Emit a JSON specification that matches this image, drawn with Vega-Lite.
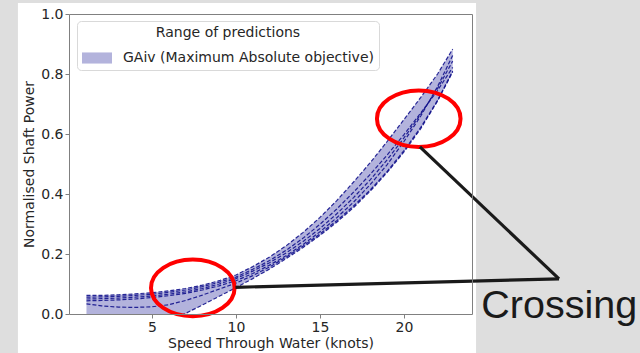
{
  "$schema": "https://vega.github.io/schema/vega-lite/v6.json",
  "width": 403,
  "height": 300,
  "autosize": {"type": "none"},
  "padding": {"left": 69, "top": 14, "right": 168, "bottom": 39},
  "background": "#dedede",
  "config": {
    "view": {"stroke": null},
    "font": "DejaVu Sans",
    "axis": {
      "domainColor": "#808080",
      "tickColor": "#808080",
      "labelColor": "#262626",
      "titleColor": "#262626",
      "labelFont": "DejaVu Sans",
      "titleFont": "DejaVu Sans",
      "labelFontSize": 14,
      "titleFontSize": 14,
      "titleFontWeight": "normal",
      "tickSize": 4,
      "grid": false
    },
    "legend": {
      "labelFont": "DejaVu Sans",
      "titleFont": "DejaVu Sans",
      "labelColor": "#262626",
      "titleColor": "#262626"
    }
  },
  "datasets": {
    "predictions": [
      {"speed": 1.1, "r1": 0.062, "r2": 0.056, "r3": 0.050, "r4": 0.044, "r5": 0.034, "r6": -0.130},
      {"speed": 2, "r1": 0.062, "r2": 0.057, "r3": 0.051, "r4": 0.045, "r5": 0.027, "r6": -0.110},
      {"speed": 3, "r1": 0.064, "r2": 0.059, "r3": 0.053, "r4": 0.047, "r5": 0.023, "r6": -0.090},
      {"speed": 4, "r1": 0.067, "r2": 0.062, "r3": 0.056, "r4": 0.050, "r5": 0.022, "r6": -0.067},
      {"speed": 5, "r1": 0.071, "r2": 0.066, "r3": 0.060, "r4": 0.055, "r5": 0.024, "r6": -0.045},
      {"speed": 6, "r1": 0.077, "r2": 0.072, "r3": 0.066, "r4": 0.061, "r5": 0.031, "r6": -0.022},
      {"speed": 7, "r1": 0.085, "r2": 0.080, "r3": 0.074, "r4": 0.069, "r5": 0.045, "r6": 0.002},
      {"speed": 8, "r1": 0.096, "r2": 0.091, "r3": 0.085, "r4": 0.080, "r5": 0.063, "r6": 0.030},
      {"speed": 9, "r1": 0.111, "r2": 0.106, "r3": 0.100, "r4": 0.094, "r5": 0.083, "r6": 0.059},
      {"speed": 10, "r1": 0.130, "r2": 0.123, "r3": 0.118, "r4": 0.111, "r5": 0.103, "r6": 0.088},
      {"speed": 11, "r1": 0.158, "r2": 0.149, "r3": 0.143, "r4": 0.135, "r5": 0.128, "r6": 0.118},
      {"speed": 12, "r1": 0.190, "r2": 0.178, "r3": 0.171, "r4": 0.163, "r5": 0.157, "r6": 0.150},
      {"speed": 13, "r1": 0.228, "r2": 0.213, "r3": 0.204, "r4": 0.195, "r5": 0.190, "r6": 0.185},
      {"speed": 14, "r1": 0.272, "r2": 0.253, "r3": 0.242, "r4": 0.232, "r5": 0.227, "r6": 0.222},
      {"speed": 15, "r1": 0.322, "r2": 0.299, "r3": 0.285, "r4": 0.274, "r5": 0.267, "r6": 0.262},
      {"speed": 16, "r1": 0.378, "r2": 0.350, "r3": 0.334, "r4": 0.321, "r5": 0.311, "r6": 0.306},
      {"speed": 17, "r1": 0.440, "r2": 0.406, "r3": 0.388, "r4": 0.373, "r5": 0.360, "r6": 0.355},
      {"speed": 18, "r1": 0.505, "r2": 0.466, "r3": 0.448, "r4": 0.432, "r5": 0.414, "r6": 0.410},
      {"speed": 19, "r1": 0.575, "r2": 0.530, "r3": 0.514, "r4": 0.498, "r5": 0.475, "r6": 0.472},
      {"speed": 20, "r1": 0.648, "r2": 0.598, "r3": 0.587, "r4": 0.575, "r5": 0.545, "r6": 0.540},
      {"speed": 21, "r1": 0.722, "r2": 0.670, "r3": 0.666, "r4": 0.660, "r5": 0.622, "r6": 0.618},
      {"speed": 22, "r1": 0.800, "r2": 0.745, "r3": 0.752, "r4": 0.758, "r5": 0.712, "r6": 0.710},
      {"speed": 22.9, "r1": 0.883, "r2": 0.822, "r3": 0.843, "r4": 0.862, "r5": 0.810, "r6": 0.807}
    ]
  },
  "resolve": {"axis": {"x": "independent", "y": "independent"}},
  "layer": [
    {
      "description": "white figure panel behind the axes",
      "data": {"values": [{}]},
      "mark": {"type": "rect", "fill": "#ffffff", "clip": false},
      "encoding": {
        "x": {"datum": -2.98, "type": "quantitative", "scale": {"domain": [0.06, 24.05], "nice": false, "zero": false}, "axis": null},
        "x2": {"datum": 24.29},
        "y": {"datum": -0.2, "type": "quantitative", "scale": {"domain": [0, 1], "nice": false, "zero": false}, "axis": null},
        "y2": {"datum": 1.037}
      }
    },
    {
      "description": "range of predictions: min/max envelope of all runs",
      "data": {"name": "predictions"},
      "transform": [
        {"fold": ["r1", "r2", "r3", "r4", "r5", "r6"], "as": ["run", "power"]},
        {"aggregate": [{"op": "min", "field": "power", "as": "low"}, {"op": "max", "field": "power", "as": "high"}], "groupby": ["speed"]}
      ],
      "mark": {"type": "area", "clip": true},
      "encoding": {
        "x": {
          "field": "speed", "type": "quantitative",
          "scale": {"domain": [0.06, 24.05], "nice": false, "zero": false},
          "axis": {"orient": "bottom", "zindex": 1, "values": [5, 10, 15, 20], "format": "d", "title": "Speed Through Water (knots)", "labelPadding": 2, "titlePadding": 2}
        },
        "y": {
          "field": "low", "type": "quantitative",
          "scale": {"domain": [0, 1], "nice": false, "zero": false},
          "axis": {"orient": "left", "zindex": 1, "values": [0, 0.2, 0.4, 0.6, 0.8, 1], "format": ".1f", "title": "Normalised Shaft Power", "labelPadding": 2, "titlePadding": 4}
        },
        "y2": {"field": "high"},
        "fill": {
          "datum": "GAiv (Maximum Absolute objective)",
          "type": "nominal",
          "scale": {"range": ["#b3b3dc"]},
          "legend": {
            "orient": "none",
            "legendX": 8,
            "legendY": 7,
            "title": "Range of predictions",
            "titleAnchor": "middle",
            "titleFontSize": 14,
            "titleFontWeight": "normal",
            "titlePadding": 3,
            "labelFontSize": 14,
            "labelLimit": 400,
            "labelOffset": 11,
            "symbolType": "M -1 -0.37 L 1 -0.37 L 1 0.37 L -1 0.37 Z",
            "symbolSize": 900,
            "symbolStrokeWidth": 0,
            "fillColor": "#ffffff",
            "strokeColor": "#d9d9d9",
            "cornerRadius": 4,
            "padding": 5
          }
        }
      }
    },
    {
      "description": "individual prediction runs",
      "data": {"name": "predictions"},
      "transform": [{"fold": ["r1", "r2", "r3", "r4", "r5", "r6"], "as": ["run", "power"]}],
      "mark": {"type": "line", "clip": true, "color": "#12128c", "strokeWidth": 1.2, "strokeDash": [4, 2], "opacity": 0.9},
      "encoding": {
        "x": {
          "field": "speed", "type": "quantitative",
          "scale": {"domain": [0.06, 24.05], "nice": false, "zero": false},
          "axis": {"orient": "top", "zindex": 1, "labels": false, "ticks": false, "title": null}
        },
        "y": {
          "field": "power", "type": "quantitative",
          "scale": {"domain": [0, 1], "nice": false, "zero": false},
          "axis": {"orient": "right", "zindex": 1, "labels": false, "ticks": false, "title": null}
        },
        "detail": {"field": "run"}
      }
    },
    {
      "description": "red rings around the two crossing regions",
      "data": {"values": [{"speed": 7.43, "power": 0.087}, {"speed": 20.88, "power": 0.651}]},
      "mark": {
        "type": "point",
        "shape": "M -1 0 A 1 0.677 0 1 1 1 0 A 1 0.677 0 1 1 -1 0 Z",
        "size": 6989,
        "filled": false,
        "stroke": "#ff0000",
        "strokeWidth": 4,
        "opacity": 1,
        "clip": false
      },
      "encoding": {
        "x": {"field": "speed", "type": "quantitative", "scale": {"domain": [0.06, 24.05], "nice": false, "zero": false}, "axis": null},
        "y": {"field": "power", "type": "quantitative", "scale": {"domain": [0, 1], "nice": false, "zero": false}, "axis": null}
      }
    },
    {
      "description": "connector lines from the rings to the label",
      "data": {"values": [
        {"leg": "upper", "speed": 20.95, "power": 0.557},
        {"leg": "upper", "speed": 29.23, "power": 0.117},
        {"leg": "lower", "speed": 9.97, "power": 0.089},
        {"leg": "lower", "speed": 29.23, "power": 0.117}
      ]},
      "mark": {"type": "line", "color": "#1a1a1a", "strokeWidth": 3.2, "clip": false},
      "encoding": {
        "x": {"field": "speed", "type": "quantitative", "scale": {"domain": [0.06, 24.05], "nice": false, "zero": false}, "axis": null},
        "y": {"field": "power", "type": "quantitative", "scale": {"domain": [0, 1], "nice": false, "zero": false}, "axis": null},
        "detail": {"field": "leg"}
      }
    },
    {
      "description": "annotation label",
      "data": {"values": [{"speed": 24.6, "power": -0.0133, "label": "Crossing"}]},
      "mark": {"type": "text", "align": "left", "baseline": "alphabetic", "font": "Liberation Sans", "fontSize": 39.5, "color": "#1a1a1a", "clip": false},
      "encoding": {
        "x": {"field": "speed", "type": "quantitative", "scale": {"domain": [0.06, 24.05], "nice": false, "zero": false}, "axis": null},
        "y": {"field": "power", "type": "quantitative", "scale": {"domain": [0, 1], "nice": false, "zero": false}, "axis": null},
        "text": {"field": "label"}
      }
    }
  ]
}
